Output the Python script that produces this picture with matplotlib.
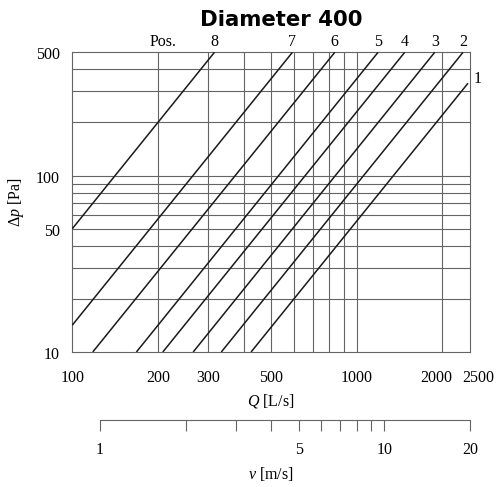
import matplotlib
matplotlib.use("Agg")
import matplotlib.pyplot as plt
import matplotlib.transforms as mtransforms

plt.rcParams['font.family'] = ['Liberation Serif', 'DejaVu Serif']
plt.rcParams['mathtext.fontset'] = 'custom'
plt.rcParams['mathtext.rm'] = 'Liberation Serif'
plt.rcParams['mathtext.it'] = 'Liberation Serif:italic'

# Kennlinien: Endpunkte (Q [L/s], dp [Pa]) je Position
positions = ["1", "2", "3", "4", "5", "6", "7", "8"]
q_start = [425, 334, 266, 208, 168, 118, 100, 100]
dp_start = [10, 10, 10, 10, 10, 10, 14.2, 50]
q_end = [2460, 2363, 1879, 1474, 1188, 837, 594, 316]
dp_end = [334, 500, 500, 500, 500, 500, 500, 500]

# Gitter und Achsenbeschriftung
q_grid = [200, 300, 400, 500, 600, 700, 800, 900, 1000, 2000]
dp_grid = [20, 30, 40, 50, 60, 70, 80, 90, 100, 200, 300, 400]
q_ticks = [100, 200, 300, 500, 1000, 2000, 2500]
dp_ticks = [10, 50, 100, 500]
v_ticks = [1, 5, 10, 20]
v_minor = [2, 3, 4, 6, 7, 8, 9]

grid_col = "#646464"
line_col = "#1a1a1a"

fig = plt.figure(figsize=(4.98, 4.87), dpi=100)
ax = fig.add_axes([72.3 / 498, 1 - 352 / 487, (470 - 72.3) / 498, (352 - 52.3) / 487])
ax.set_xscale("log")
ax.set_yscale("log")
ax.set_xlim(100, 2500)
ax.set_ylim(10, 500)

for q in q_grid:
    ax.axvline(q, color=grid_col, lw=0.8, zorder=1)
for d in dp_grid:
    ax.axhline(d, color=grid_col, lw=0.8, zorder=1)

for name, q0, d0, q1, d1 in zip(positions, q_start, dp_start, q_end, dp_end):
    ax.plot([q0, q1], [d0, d1], color=line_col, lw=1.1, zorder=3, solid_capstyle="butt")
    if name == "1":
        ax.annotate(name, (q1, d1), xytext=(4, 3), textcoords="offset points",
                    fontsize=11.5, ha="left", va="center", annotation_clip=False)
    else:
        ax.annotate(name, (q1, d1), xytext=(0, 2), textcoords="offset points",
                    fontsize=11.5, ha="center", va="bottom", annotation_clip=False)
ax.annotate("Pos.", (208, 500), xytext=(0, 2), textcoords="offset points",
            fontsize=11.5, ha="center", va="bottom", annotation_clip=False)

for s in ax.spines.values():
    s.set_color(grid_col)
    s.set_linewidth(0.8)

ax.set_xticks(q_ticks)
ax.set_xticklabels([str(t) for t in q_ticks])
ax.set_xticks([], minor=True)
ax.set_yticks(dp_ticks)
ax.set_yticklabels([str(t) for t in dp_ticks])
ax.set_yticks([], minor=True)
ax.tick_params(axis="x", length=0, pad=13, labelsize=11.5)
ax.tick_params(axis="y", length=0, pad=9, labelsize=11.5)

# 2000 und 2500 etwas auseinanderschieben, wie im Original
xlabs = ax.get_xticklabels()
xlabs[-2].set_transform(xlabs[-2].get_transform() +
                        mtransforms.ScaledTranslation(-6 / 100, 0, fig.dpi_scale_trans))
xlabs[-1].set_transform(xlabs[-1].get_transform() +
                        mtransforms.ScaledTranslation(8 / 100, 0, fig.dpi_scale_trans))
for lab in ax.get_yticklabels():
    lab.set_va("center")
    lab.set_transform(lab.get_transform() +
                      mtransforms.ScaledTranslation(0, -3 / 100, fig.dpi_scale_trans))

ax.set_xlabel(r"$Q$ [L/s]", fontsize=11.5, labelpad=4)
ax.set_ylabel(r"$\Delta p$ [Pa]", fontsize=11.5, labelpad=7)

fig.text(281.7 / 498, 1 - 20 / 487, "Diameter 400", family="DejaVu Sans",
         fontweight="bold", fontsize=15.3, ha="center", va="center")

# Geschwindigkeitsskala v [m/s]
axv = fig.add_axes([72.3 / 498, 1 - 420 / 487, (470 - 72.3) / 498, 0.0001])
axv.set_xscale("log")
axv.set_xlim(0.8, 20)
axv.set_yticks([])
for k in ["top", "left", "right"]:
    axv.spines[k].set_visible(False)
axv.spines["bottom"].set_bounds(1, 20)
axv.spines["bottom"].set_color(grid_col)
axv.spines["bottom"].set_linewidth(0.8)
axv.set_xticks(v_ticks)
axv.set_xticklabels([str(t) for t in v_ticks])
axv.set_xticks(v_minor, minor=True)
axv.set_xticklabels([], minor=True)
axv.tick_params(axis="x", which="both", direction="out", length=8, width=0.8,
                color=grid_col, pad=8, labelsize=11.5)
axv.set_xlabel(r"$v$ [m/s]", fontsize=11.5, labelpad=5)
axv.patch.set_visible(False)

fig.savefig("out.png", dpi=100)
